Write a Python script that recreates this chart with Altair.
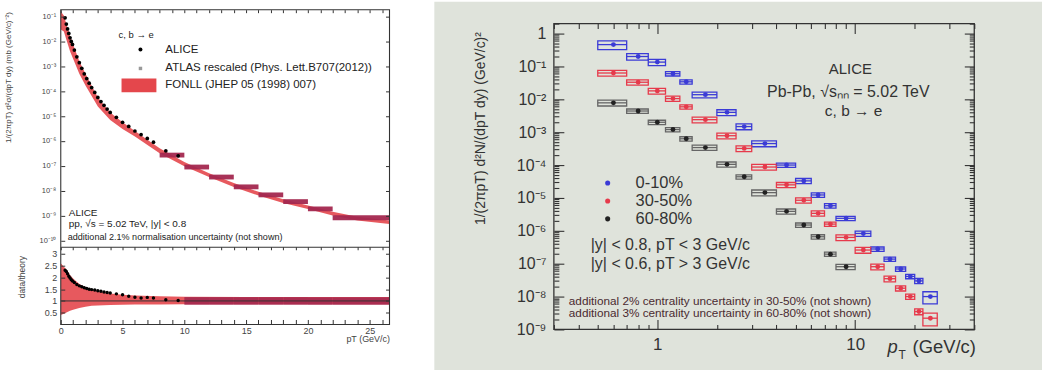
import altair as alt
import pandas as pd

FONT = "Liberation Sans"
RED = "#e4474c"
ATLAS_C = "#a3284f"
BG_R = "#dfe3db"
TXT = "#333333"
AX = "#333333"
BLUE = "#3b3bd6"
RRED = "#e63a4b"
BLK = "#222222"

# ---------------- left panel (pp reference) data ----------------
alice_pt = [0.35, 0.45, 0.55, 0.65, 0.75, 0.85, 0.95, 1.1, 1.3, 1.5, 1.7, 1.9, 2.1, 2.3, 2.5,
            2.75, 3.0, 3.25, 3.5, 3.75, 4.0, 4.5, 5.0, 5.5, 6.0, 6.5, 7.0, 7.5, 8.5, 9.5]
alice_xsec = [8.9e-2, 5.0e-2, 3.2e-2, 2.1e-2, 1.4e-2, 1.0e-2, 7.6e-3, 4.5e-3, 2.4e-3, 1.4e-3,
              8.3e-4, 5.0e-4, 3.2e-4, 2.1e-4, 1.4e-4, 8.9e-5, 5.6e-5, 3.8e-5, 2.7e-5, 1.9e-5,
              1.4e-5, 8.9e-6, 5.6e-6, 3.8e-6, 2.5e-6, 1.8e-6, 1.26e-6, 8.9e-7, 4.0e-7, 2.5e-7]
alice_ratio = [2.3, 2.25, 2.15, 2.05, 1.97, 1.9, 1.85, 1.78, 1.7, 1.64, 1.6, 1.56, 1.53, 1.5, 1.48,
               1.46, 1.43, 1.41, 1.38, 1.36, 1.34, 1.3, 1.26, 1.2, 1.16, 1.12, 1.15, 1.12, 1.05, 1.02]

fonll_pt = [0, 0.25, 0.5, 0.75, 1.0, 1.5, 2.0, 3.0, 4.0, 5.0, 6.0, 8.0, 10, 12, 14, 16, 18, 20, 22, 24, 26.6]
fonll_hi = [1.6e-1, 1.1e-1, 4.2e-2, 1.7e-2, 7.5e-3, 1.6e-3, 5.0e-4, 5.6e-5, 1.4e-5, 5.6e-6, 2.5e-6,
            5.0e-7, 1.4e-7, 5.0e-8, 2.0e-8, 8.9e-9, 4.5e-9, 2.5e-9, 1.4e-9, 8.9e-10, 6.3e-10]
fonll_lo = [3.0e-2, 2.5e-2, 1.0e-2, 4.0e-3, 2.0e-3, 5.0e-4, 1.7e-4, 2.4e-5, 7.0e-6, 3.0e-6, 1.5e-6,
            3.2e-7, 9.5e-8, 3.5e-8, 1.4e-8, 6.3e-9, 3.2e-9, 1.8e-9, 1.0e-9, 6.3e-10, 4.5e-10]

atlas_lo = [8, 10, 12, 14, 16, 18, 20, 22]
atlas_hi = [10, 12, 14, 16, 18, 20, 22, 26.6]
atlas_xsec = [2.75e-7, 9.1e-8, 3.6e-8, 1.45e-8, 6.9e-9, 3.7e-9, 1.9e-9, 8.3e-10]
atlas_unc = [0.22, 0.22, 0.22, 0.22, 0.22, 0.22, 0.22, 0.22]

ratio_pt = [0, 0.25, 0.5, 0.75, 1.0, 1.5, 2.0, 2.5, 3.0, 4.0, 5.0, 6.0, 8.0, 10, 15, 20, 26.6]
ratio_hi = [2.6, 2.45, 2.3, 2.1, 1.95, 1.72, 1.58, 1.5, 1.42, 1.32, 1.26, 1.23, 1.2, 1.18, 1.17, 1.17, 1.17]
ratio_lo = [0.4, 0.46, 0.52, 0.58, 0.63, 0.7, 0.75, 0.79, 0.81, 0.83, 0.84, 0.85, 0.85, 0.86, 0.86, 0.86, 0.86]

atlas_r_lo = [10, 12, 14, 16, 18, 20, 22]
atlas_r_hi = [12, 14, 16, 18, 20, 22, 26.6]
atlas_r_low = [0.84, 0.84, 0.84, 0.84, 0.84, 0.84, 0.84]
atlas_r_up = [1.16, 1.16, 1.16, 1.16, 1.16, 1.16, 1.16]

# ---------------- right panel (Pb-Pb) data ----------------
bin_lo = [0.5, 0.7, 0.9, 1.1, 1.3, 1.5, 2.0, 2.5, 3.0, 4, 5, 6, 7, 8, 10, 12, 14, 16, 18, 20, 22]
bin_hi = [0.7, 0.9, 1.1, 1.3, 1.5, 2.0, 2.5, 3.0, 4.0, 5, 6, 7, 8, 10, 12, 14, 16, 18, 20, 22, 26]
bin_c = [0.6, 0.8, 1.0, 1.2, 1.4, 1.75, 2.25, 2.75, 3.5, 4.5, 5.5, 6.5, 7.5, 9, 11, 13, 15, 17, 19, 21, 24]

y_0_10 = [0.46, 0.20, 0.135, 0.060, 0.034, 0.0138, 4.0e-3, 1.48e-3, 4.5e-4, 1.0e-4, 3.3e-5, 1.23e-5,
          5.8e-6, 2.4e-6, 8.3e-7, 2.8e-7, 1.38e-7, 6.9e-8, 4.1e-8, 3.0e-8, 1.0e-8]
y_30_50 = [6.3e-2, 3.3e-2, 1.8e-2, 1.05e-2, 5.9e-3, 2.4e-3, 7.8e-4, 3.2e-4, 8.7e-5, 2.5e-5, 8.5e-6,
           3.4e-6, 1.6e-6, 6.3e-7, 2.6e-7, 8.1e-8, 3.5e-8, 1.8e-8, 1.0e-8, 3.5e-9, 2.2e-9]
y_60_80 = [7.8e-3, 4.4e-3, 2.0e-3, 1.2e-3, 6.3e-4, 3.4e-4, 1.05e-4, 4.4e-5, 1.45e-5, 3.9e-6, 1.5e-6,
           6.6e-7, 1.95e-7, 8.1e-8]
sys_0_10 = [0.3, 0.22, 0.22, 0.15, 0.15, 0.2, 0.2, 0.2, 0.2, 0.15, 0.18, 0.15, 0.15, 0.15, 0.18,
            0.15, 0.15, 0.15, 0.15, 0.18, 0.4]
sys_30_50 = [0.2, 0.18, 0.2, 0.18, 0.15, 0.2, 0.2, 0.2, 0.2, 0.18, 0.18, 0.18, 0.15, 0.2, 0.2,
             0.2, 0.2, 0.18, 0.18, 0.2, 0.42]
sys_60_80 = [0.2, 0.15, 0.15, 0.15, 0.15, 0.18, 0.18, 0.15, 0.2, 0.18, 0.15, 0.15, 0.15, 0.18]
centralities = ["0-10%", "30-50%", "60-80%"]
cent_colors = [BLUE, RRED, BLK]
box_colors = [BLUE, RRED, "#666666"]

# ---------------- tables ----------------
df_alice = pd.DataFrame({"pt": alice_pt, "v": alice_xsec, "r": alice_ratio})
df_fonll = pd.DataFrame({"pt": fonll_pt, "hi": fonll_hi, "lo": fonll_lo})
df_atlas = pd.DataFrame({"lo": atlas_lo, "hi": atlas_hi, "v": atlas_xsec, "u": atlas_unc})
df_atlas["y0"] = df_atlas["v"] * (1 - df_atlas["u"])
df_atlas["y1"] = df_atlas["v"] * (1 + df_atlas["u"])
df_rband = pd.DataFrame({"pt": ratio_pt, "hi": ratio_hi, "lo": ratio_lo})
df_ratlas = pd.DataFrame({"lo": atlas_r_lo, "hi": atlas_r_hi, "r0": atlas_r_low, "r1": atlas_r_up})

rows = []
for name, ys, ss in [("0-10%", y_0_10, sys_0_10), ("30-50%", y_30_50, sys_30_50), ("60-80%", y_60_80, sys_60_80)]:
    for i, (v, s) in enumerate(zip(ys, ss)):
        rows.append({"cent": name, "lo": bin_lo[i], "hi": bin_hi[i], "c": bin_c[i], "v": v,
                     "ylo": v * (1 - s), "yhi": v * (1 + s)})
df_r = pd.DataFrame(rows)

one = pd.DataFrame({"a": [0]})


def txt(text, x, y, size, color=TXT, align="left", baseline="middle", style="normal"):
    return alt.Chart(pd.DataFrame({"t": [text]})).mark_text(
        align=align, baseline=baseline, fontSize=size, font=FONT, color=color, fontStyle=style
    ).encode(x=alt.value(x), y=alt.value(y), text="t:N")


def dot(x, y, color, size=16, shape="circle"):
    return alt.Chart(one).mark_point(filled=True, shape=shape, color=color, size=size, opacity=1).encode(
        x=alt.value(x), y=alt.value(y))


# ================= LEFT PANEL =================
W_L, H_L, TOP_H = 330, 316, 238
xs_l = alt.Scale(domain=[0, 26.6], nice=False, zero=False)
ys_top = alt.Scale(type="log", domain=[5.5e-11, 1.9e-1], range=[TOP_H, 0], nice=False)
ys_rat = alt.Scale(domain=[0, 3.3], range=[H_L, TOP_H], nice=False, zero=False)

sup = ["", "¹", "²", "³", "⁴", "⁵", "⁶", "⁷", "⁸", "⁹", "¹⁰"]
sup_arr = "[" + ",".join("'%s'" % s for s in sup) + "]"
top_label_expr = "'10⁻' + " + sup_arr + "[round(-log(datum.value)/LN10)]"
top_decades = [10.0 ** -k for k in range(1, 11)]
pt_ticks = list(range(0, 27))

top_y_axis = alt.Axis(
    orient="left", values=top_decades, labelExpr=top_label_expr,
    offset=-4, tickSize=4, domain=False, labelPadding=5, labelFontSize=7.5, labelColor="#444",
    tickColor=AX, labelOverlap=False, labelFlush=False, grid=False, zindex=1,
    title="1/(2πpT) d²σ/(dpT dy) (mb (GeV/c)⁻²)", titleFontSize=8, titleFontWeight="normal",
    titleColor="#444", titleAngle=270, titleAlign="right", titleBaseline="bottom",
    titleX=-52, titleY=2)
top_x_axis = alt.Axis(
    orient="bottom", offset=-(H_L - TOP_H), values=pt_ticks, labels=False, tickSize=3,
    domain=True, domainColor=AX, tickColor=AX, title=None, grid=False, zindex=1)
mirror_common = dict(labels=False, domain=False, grid=False, title=None, tickColor=AX, zindex=1)
top_x_mirror = alt.Axis(orient="top", offset=-3, tickSize=3, values=pt_ticks, **mirror_common)
top_y_mirror = alt.Axis(orient="right", offset=-4, tickSize=4, values=top_decades, **mirror_common)
rat_y_mirror = alt.Axis(orient="right", offset=-4, tickSize=4, values=[0.5, 1, 1.5, 2, 2.5, 3],
                        **mirror_common)

top_band = alt.Chart(df_fonll).mark_area(color=RED, opacity=0.9).encode(
    x=alt.X("pt:Q", scale=xs_l, axis=top_x_axis),
    y=alt.Y("hi:Q", scale=ys_top, axis=top_y_axis),
    y2="lo:Q")
top_atlas = alt.Chart(df_atlas).mark_rect(color=ATLAS_C, opacity=0.95).encode(
    x=alt.X("lo:Q", scale=xs_l, axis=None), x2="hi:Q",
    y=alt.Y("y0:Q", scale=ys_top, axis=None), y2="y1:Q")
top_alice = alt.Chart(df_alice).mark_circle(color="black", size=14, opacity=1).encode(
    x=alt.X("pt:Q", scale=xs_l, axis=None),
    y=alt.Y("v:Q", scale=ys_top, axis=None))
top_ticks = alt.Chart(df_alice).mark_point(opacity=0).encode(
    x=alt.X("pt:Q", scale=xs_l, axis=top_x_mirror),
    y=alt.Y("v:Q", scale=ys_top, axis=top_y_mirror))

leg_box = alt.Chart(one).mark_rect(color=RED).encode(
    x=alt.value(61), x2=alt.value(96), y=alt.value(69), y2=alt.value(83))

rat_y_axis = alt.Axis(
    orient="left", values=[0.5, 1, 1.5, 2, 2.5, 3], labelExpr="format(datum.value, '~g')",
    offset=-4, tickSize=4, domain=False, labelPadding=4, labelFontSize=9, labelColor="#444",
    tickColor=AX, labelOverlap=False, grid=False, zindex=1, title="data/theory", titleFontSize=8.5,
    titleFontWeight="normal", titleColor="#444", titleAngle=270, titleAlign="center",
    titleBaseline="bottom", titleX=-38, titleY=268)
rat_x_axis = alt.Axis(
    orient="bottom", offset=-5, tickSize=5, values=pt_ticks,
    labelExpr="datum.value % 5 == 0 ? '' + datum.value : ''", domain=False, labelPadding=2,
    labelFontSize=9, labelColor="#444", tickColor=AX, labelOverlap=False, labelFlush=False,
    grid=False, zindex=1, title="pT (GeV/c)", titleFontSize=9, titleFontWeight="normal",
    titleColor="#444", titleAlign="right", titleBaseline="alphabetic", titleX=330, titleY=22)

rat_band = alt.Chart(df_rband).mark_area(color=RED, opacity=0.9).encode(
    x=alt.X("pt:Q", scale=xs_l, axis=rat_x_axis),
    y=alt.Y("hi:Q", scale=ys_rat, axis=rat_y_axis),
    y2="lo:Q")
rat_atlas = alt.Chart(df_ratlas).mark_rect(color=ATLAS_C, opacity=0.9).encode(
    x=alt.X("lo:Q", scale=xs_l, axis=None), x2="hi:Q",
    y=alt.Y("r0:Q", scale=ys_rat, axis=None), y2="r1:Q")
rat_line = alt.Chart(pd.DataFrame({"r": [1.0]})).mark_rule(color=AX, strokeWidth=1).encode(
    y=alt.Y("r:Q", scale=ys_rat, axis=None))
rat_pts = alt.Chart(df_alice).mark_circle(color="black", size=12, opacity=1).encode(
    x=alt.X("pt:Q", scale=xs_l, axis=None),
    y=alt.Y("r:Q", scale=ys_rat, axis=None))
rat_ticks = alt.Chart(df_alice).mark_point(opacity=0).encode(
    x=alt.X("pt:Q", scale=xs_l, axis=None),
    y=alt.Y("r:Q", scale=ys_rat, axis=rat_y_mirror))

# invisible box that fixes the panel's extent in the layout
bg_l = alt.Chart(one).mark_rect(color="white", opacity=0).encode(
    x=alt.value(-60), x2=alt.value(373), y=alt.value(-8), y2=alt.value(362))
frame_l = alt.Chart(one).mark_rect(fillOpacity=0, stroke=AX, strokeWidth=1.1).encode(
    x=alt.value(0), x2=alt.value(W_L), y=alt.value(0), y2=alt.value(H_L))

left = alt.layer(
    bg_l, top_band, top_atlas, top_alice, top_ticks,
    rat_band, rat_atlas, rat_line, rat_pts, rat_ticks, frame_l,
    dot(80, 40, "black", 16), dot(80, 59, "#999999", 12, "square"), leg_box,
    txt("c, b → e", 58, 25, 9.5, "#222"),
    txt("ALICE", 105, 40, 11.5, "#222"),
    txt("ATLAS rescaled (Phys. Lett.B707(2012))", 105, 59, 11.5, "#222"),
    txt("FONLL (JHEP 05 (1998) 007)", 105, 76, 11.5, "#222"),
    txt("ALICE", 8, 204, 10, "#222"),
    txt("pp, √s = 5.02 TeV, |y| < 0.8", 8, 215, 10, "#222"),
    txt("additional 2.1% normalisation uncertainty (not shown)", 7, 228, 9.1, "#222"),
).resolve_scale(y="independent").resolve_axis(x="independent", y="independent").properties(
    width=W_L, height=H_L)

# ================= RIGHT PANEL =================
W_R, H_R, R_TOP = 422, 321, 14
xs_r = alt.Scale(type="log", domain=[0.3, 40], nice=False)
ys_r = alt.Scale(type="log", domain=[1e-9, 2], range=[H_R, R_TOP], nice=False)
c_stroke = alt.Scale(domain=centralities, range=box_colors)
c_fill = alt.Scale(domain=centralities, range=cent_colors)

decades = [10.0 ** -k for k in range(0, 10)]
minor_y = [m * 10.0 ** -k for k in range(1, 10) for m in range(2, 10)] + [2.0]
major_x = [1, 10]
minor_x = [0.3, 0.4, 0.5, 0.6, 0.7, 0.8, 0.9, 2, 3, 4, 5, 6, 7, 8, 9, 20, 30, 40]
dec_labels = ["1"] + ["10⁻" + sup[k] for k in range(1, 10)]
dec_arr = "[" + ",".join("'%s'" % s for s in dec_labels) + "]"
y_label_expr = dec_arr + "[round(-log(datum.value)/LN10)]"

tick_common = dict(domain=False, grid=False, title=None, tickColor=AX, tickWidth=1.1, zindex=1)

ax_xb = alt.Axis(orient="bottom", offset=-10, tickSize=10, values=major_x,
                 labelExpr="datum.value < 5 ? '1' : '10'", labelPadding=7, labelFontSize=17,
                 labelColor=TXT, labelOverlap=False, labelFlush=False, **tick_common)
ax_yl = alt.Axis(orient="left", offset=-10, tickSize=10, values=decades, labelExpr=y_label_expr,
                 labelPadding=8, labelFontSize=16, labelColor=TXT, labelOverlap=False,
                 labelFlush=False, domain=False, grid=False, tickColor=AX, tickWidth=1.1, zindex=1,
                 title="1/(2πpT) d²N/(dpT dy) (GeV/c)²", titleFontSize=14,
                 titleFontWeight="normal", titleColor=TXT, titleAngle=270, titleAlign="right",
                 titleBaseline="bottom", titleX=-77, titleY=22)
ax_xb_m = alt.Axis(orient="bottom", offset=-5, tickSize=5, values=minor_x, labels=False, **tick_common)
ax_yl_m = alt.Axis(orient="left", offset=-5, tickSize=5, values=minor_y, labels=False, **tick_common)
ax_xt = alt.Axis(orient="top", offset=-(R_TOP + 10), tickSize=10, values=major_x, labels=False, **tick_common)
ax_yr = alt.Axis(orient="right", offset=-10, tickSize=10, values=decades, labels=False, **tick_common)
ax_xt_m = alt.Axis(orient="top", offset=-(R_TOP + 5), tickSize=5, values=minor_x, labels=False, **tick_common)
ax_yr_m = alt.Axis(orient="right", offset=-5, tickSize=5, values=minor_y, labels=False, **tick_common)


def axis_layer(ax_x, ax_y):
    return alt.Chart(df_r).mark_point(opacity=0).encode(
        x=alt.X("c:Q", scale=xs_r, axis=ax_x),
        y=alt.Y("v:Q", scale=ys_r, axis=ax_y))


bg_r = alt.Chart(one).mark_rect(color=BG_R).encode(
    x=alt.value(-120), x2=alt.value(490), y=alt.value(-8), y2=alt.value(362))

frame_r = alt.Chart(pd.DataFrame({"x0": [0.3], "x1": [40], "y0": [1e-9], "y1": [2.0]})).mark_rect(
    fillOpacity=0, stroke=AX, strokeWidth=1.3).encode(
    x=alt.X("x0:Q", scale=xs_r, axis=None), x2="x1:Q",
    y=alt.Y("y0:Q", scale=ys_r, axis=None), y2="y1:Q")

boxes = alt.Chart(df_r).mark_rect(fillOpacity=0, strokeWidth=1.3).encode(
    x=alt.X("lo:Q", scale=xs_r, axis=None), x2="hi:Q",
    y=alt.Y("ylo:Q", scale=ys_r, axis=None), y2="yhi:Q",
    stroke=alt.Stroke("cent:N", scale=c_stroke, legend=None))
bars = alt.Chart(df_r).mark_rule(strokeWidth=1.3).encode(
    x=alt.X("lo:Q", scale=xs_r, axis=None), x2="hi:Q",
    y=alt.Y("v:Q", scale=ys_r, axis=None),
    stroke=alt.Stroke("cent:N", scale=c_stroke, legend=None))
pts = alt.Chart(df_r).mark_circle(size=24, opacity=1).encode(
    x=alt.X("c:Q", scale=xs_r, axis=None),
    y=alt.Y("v:Q", scale=ys_r, axis=None),
    color=alt.Color("cent:N", scale=c_fill, legend=None))

right = alt.layer(
    bg_r, boxes, bars, pts, frame_r,
    axis_layer(ax_xb, ax_yl), axis_layer(ax_xb_m, ax_yl_m),
    axis_layer(ax_xt, ax_yr), axis_layer(ax_xt_m, ax_yr_m),
    dot(54, 174, BLUE, 26), dot(54, 192, RRED, 26), dot(54, 210, BLK, 26),
    txt(centralities[0], 82, 174, 16.5),
    txt(centralities[1], 82, 192, 16.5),
    txt(centralities[2], 82, 210, 16.5),
    txt("ALICE", 276, 60, 15),
    txt("Pb-Pb, √sₙₙ = 5.02 TeV", 214, 83, 16),
    txt("c, b → e", 272, 102, 15.5),
    txt("|y| < 0.8, pT < 3 GeV/c", 37, 236, 16),
    txt("|y| < 0.6, pT > 3 GeV/c", 37, 255, 16),
    txt("additional 2% centrality uncertainty in 30-50% (not shown)", 15, 292, 11.8, "#4a2a30"),
    txt("additional 3% centrality uncertainty in 60-80% (not shown)", 15, 305, 11.8, "#4a2a30"),
    txt("p", 335, 345, 18.5, TXT, style="italic", baseline="alphabetic"),
    txt("T", 346, 351, 12, TXT, baseline="alphabetic"),
    txt("(GeV/c)", 360, 345, 18.5, TXT, baseline="alphabetic"),
).resolve_axis(x="independent", y="independent").properties(
    width=W_R, height=H_R)

chart = alt.hconcat(left, right, spacing=0).properties(
    padding=0, background="white"
).configure_view(stroke="transparent").configure_axis(
    grid=False, labelFont=FONT, titleFont=FONT)

chart.save("out.html", embed_options={"renderer": "svg", "actions": False})
